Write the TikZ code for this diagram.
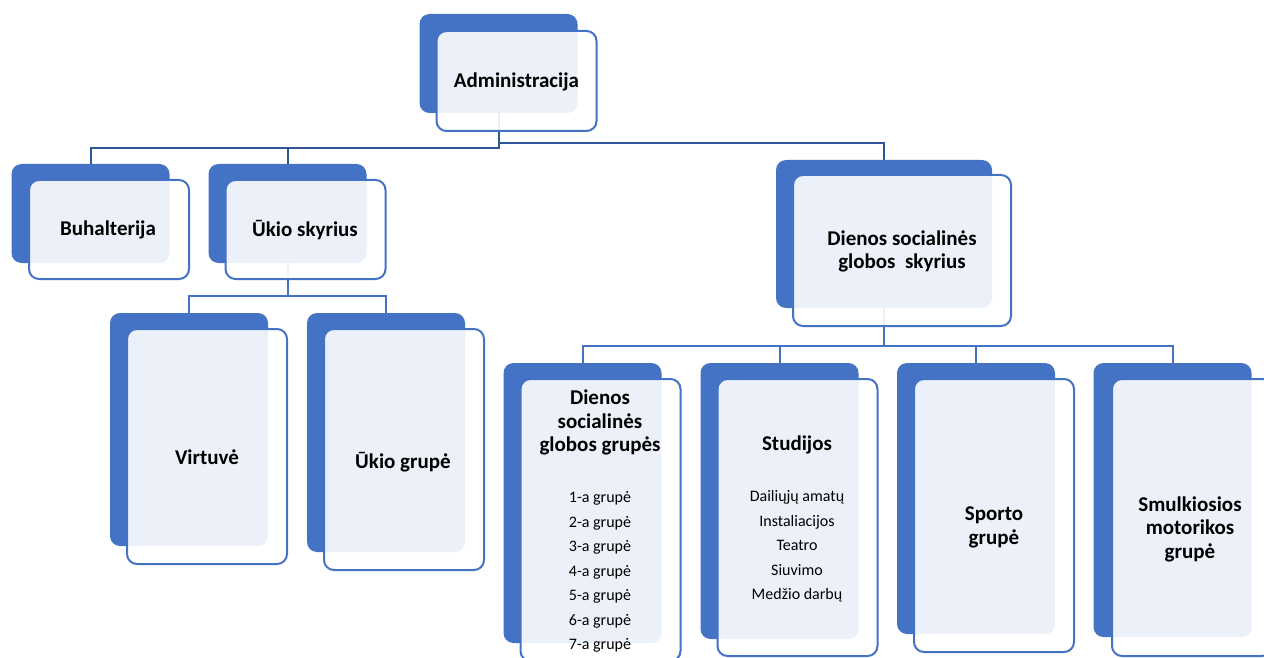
\documentclass[tikz,border=0pt]{standalone}
\usepackage{fontspec}
\setmainfont{Carlito}
\definecolor{melyna}{HTML}{4472C4}
\definecolor{tamsi}{HTML}{2F5597}
\pgfdeclarelayer{fonas}
\pgfsetlayers{fonas,main}
\tikzset{
  galas/.style={fill=melyna, rounded corners=10pt, inner sep=0pt, minimum width=158pt},
  priekis/.style={draw=melyna, line width=2pt, fill=white, fill opacity=0.9, rounded corners=10pt, inner sep=0pt, minimum width=160pt},
  antraste/.style={align=center, font=\fontsize{21}{23.5}\selectfont\bfseries},
  sarasas/.style={align=center, font=\fontsize{16}{24.5}\selectfont},
  linija/.style={draw=melyna, line width=2pt},
  virsus/.style={draw=tamsi, line width=2pt}
}
\begin{document}
\begin{tikzpicture}[x=1pt,y=-1pt]
\useasboundingbox (0,0) rectangle (1264,658);
\clip (0,0) rectangle (1264,658);

\node[galas, minimum height=99pt] (admb) at (498.5,63.5) {}; % administracija
\node[priekis, minimum height=100pt] (admf) at (516.5,81) {};
\node[galas, minimum height=99pt] (buhb) at (90.5,213.5) {}; % buhalterija
\node[priekis, minimum height=99pt] (buhf) at (109,229.5) {};
\node[galas, minimum height=99pt] (uksb) at (287.5,213.5) {}; % ukio skyrius
\node[priekis, minimum height=99pt] (uksf) at (305.5,229.5) {};
\node[galas, minimum width=216pt, minimum height=148pt] (dskb) at (884,234) {}; % dienos skyrius
\node[priekis, minimum width=218pt, minimum height=151pt] (dskf) at (902,250.5) {};

\node[galas, minimum height=233pt] (virb) at (189,429.5) {}; % virtuve
\node[priekis, minimum height=235pt] (virf) at (207,446.5) {};
\node[galas, minimum height=239pt] (ukgb) at (386,432.5) {}; % ukio grupe
\node[priekis, minimum height=241pt] (ukgf) at (404,449.5) {};

\node[galas, minimum height=280pt] (dggb) at (582.5,503) {}; % grupes
\node[priekis, minimum height=282pt] (dggf) at (600.5,520) {};
\node[galas, minimum height=276pt] (stub) at (779.5,501) {}; % studijos
\node[priekis, minimum height=277pt] (stuf) at (797.5,517.5) {};
\node[galas, minimum height=271pt] (spob) at (976,498.5) {}; % sportas
\node[priekis, minimum height=273pt] (spof) at (994,515.5) {};
\node[galas, minimum height=274pt] (smkb) at (1172.5,500) {}; % smulkioji motorika
\node[priekis, minimum height=277pt] (smkf) at (1192,517.5) {};

\node[antraste] (admt) at (516.5,82) {Administracija};
\node[antraste] (buht) at (108,230) {Buhalterija};
\node[antraste] (ukst) at (305,230) {Ūkio skyrius};
\node[antraste] (dskt) at (902,251.5) {Dienos socialinės\\globos \ skyrius};
\node[antraste] (virt) at (207,457) {Virtuvė};
\node[antraste] (ukgt) at (403,462) {Ūkio grupė};
\node[antraste] (dggt) at (600,422.5) {Dienos\\socialinės\\globos grupės};
\node[sarasas] (dggl) at (600,572) {1-a grupė\\2-a grupė\\3-a grupė\\4-a grupė\\5-a grupė\\6-a grupė\\7-a grupė};
\node[antraste] (stut) at (797,445) {Studijos};
\node[sarasas] (stul) at (797,546.5) {Dailiųjų amatų\\Instaliacijos\\Teatro\\Siuvimo\\Medžio darbų};
\node[antraste] (spot) at (994,527.5) {Sporto\\grupė};
\node[antraste] (smkt) at (1190,529) {Smulkiosios\\motorikos\\grupė};

\begin{pgfonlayer}{fonas}
\draw[virsus] (admb.south) -- ++(0,35) -| (buhb.north); % virsutines linijos
\draw[virsus] (admb.south) ++(0,35) -| (uksb.north);
\draw[virsus] (admb.south) -- ++(0,30) -| (dskb.north);
\draw[linija] (uksb.south) -- ++(0,33) -| (virb.north); % ukio linijos
\draw[linija] (uksb.south) ++(0,33) -| (ukgb.north);
\draw[linija] (dskb.south) -- ++(0,37.5) -| (dggb.north); % dienos linijos
\draw[linija] (dskb.south) ++(0,37.5) -| (stub.north);
\draw[linija] (dskb.south) ++(0,37.5) -| (spob.north);
\draw[linija] (dskb.south) ++(0,37.5) -| (smkb.north);
\end{pgfonlayer}
\end{tikzpicture}
\end{document}
